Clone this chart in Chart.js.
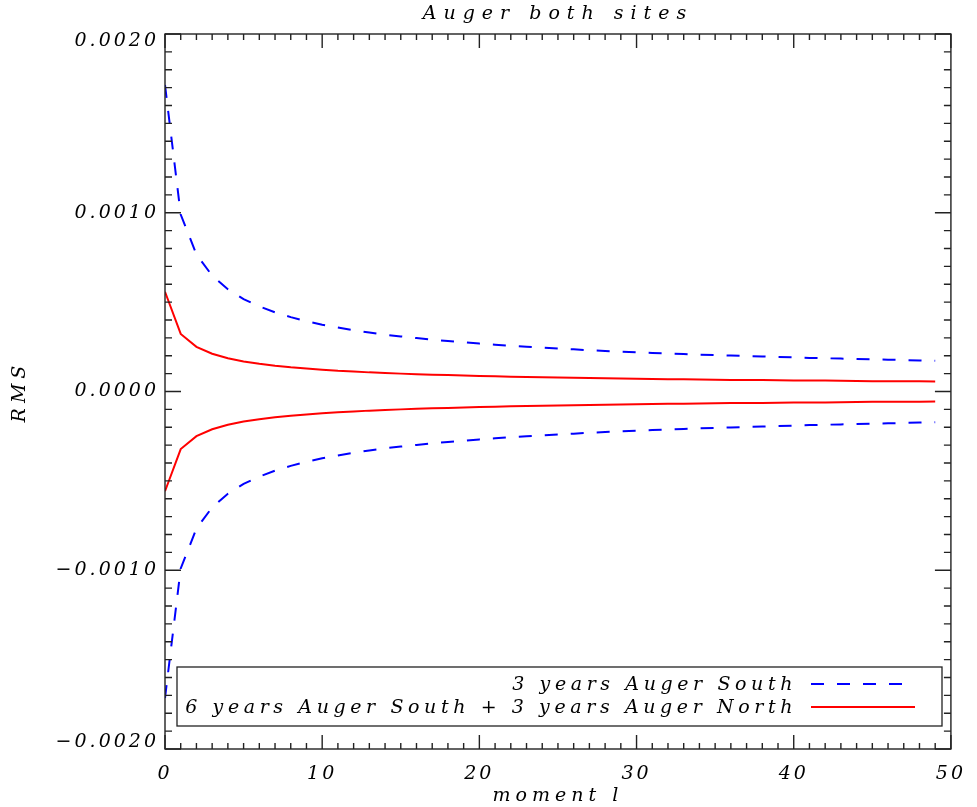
<!DOCTYPE html>
<html>
<head>
<meta charset="utf-8">
<title>Auger both sites</title>
<script src="https://cdn.jsdelivr.net/npm/chart.js@4.4.1/dist/chart.umd.min.js"></script>
<style>
  html, body { margin: 0; padding: 0; background: #fff; }
  #wrap { width: 977px; height: 807px; }
</style>
</head>
<body>
<div id="wrap"><canvas id="rms" width="977" height="807"></canvas></div>
<script>
// ── Data: RMS per multipole moment l, in units of 1e-4 ─────────
const moments = [0, 1, 2, 3, 4, 5, 6, 7, 8, 9, 10, 11, 12, 13, 14, 15, 16, 17, 18, 19,
                 20, 21, 22, 23, 24, 25, 26, 27, 28, 29, 30, 31, 32, 33, 34, 35, 36, 37, 38, 39,
                 40, 41, 42, 43, 44, 45, 46, 47, 48, 49];
const southRms = [17.15, 9.90, 7.67, 6.48, 5.72, 5.17, 4.76, 4.43, 4.16, 3.93,
                  3.74, 3.58, 3.43, 3.30, 3.18, 3.08, 2.99, 2.90, 2.82, 2.75,
                  2.68, 2.62, 2.56, 2.50, 2.45, 2.40, 2.36, 2.31, 2.27, 2.23,
                  2.20, 2.16, 2.13, 2.10, 2.06, 2.04, 2.01, 1.98, 1.96, 1.93,
                  1.91, 1.88, 1.86, 1.84, 1.82, 1.80, 1.78, 1.76, 1.74, 1.72];
const bothRms  = [5.58, 3.22, 2.50, 2.11, 1.86, 1.68, 1.55, 1.44, 1.35, 1.28,
                  1.22, 1.16, 1.12, 1.07, 1.04, 1.00, 0.97, 0.94, 0.92, 0.89,
                  0.87, 0.85, 0.83, 0.81, 0.80, 0.78, 0.77, 0.75, 0.74, 0.73,
                  0.71, 0.70, 0.69, 0.68, 0.67, 0.66, 0.65, 0.64, 0.64, 0.63,
                  0.62, 0.61, 0.61, 0.60, 0.59, 0.58, 0.58, 0.57, 0.57, 0.56];
const seriesNames = ['3 years Auger South', '6 years Auger South + 3 years Auger North'];

const xTickValues = [0, 10, 20, 30, 40, 50];
const xTickLabels = ['0', '10', '20', '30', '40', '50'];
const yTickValues = [0.002, 0.001, 0, -0.001, -0.002];
const yTickLabels = ['0.0020', '0.0010', '0.0000', '\u22120.0010', '\u22120.0020'];

const UNIT = 1e-4;
const SERIF = '"DejaVu Serif", "Liberation Serif", serif';
const BLUE = '#0000ff';
const RED  = '#ff0000';

const pts = (vals, sign) => moments.map((l, i) => ({ x: l, y: sign * vals[i] * UNIT }));
const near = (a, b) => Math.abs(a - b) < 1e-9;
const labelFor = (values, labels) => v => {
  const i = values.findIndex(m => near(m, v));
  return i >= 0 ? labels[i] : '';
};

// wrap a draw method so it renders with its own letter spacing
function spaced(obj, key, px) {
  if (!obj || obj['_sp_' + key]) return;
  const orig = obj[key].bind(obj);
  obj[key] = (...args) => {
    const c = obj.ctx;
    c.save();
    c.letterSpacing = px;
    orig(...args);
    c.restore();
  };
  obj['_sp_' + key] = true;
}

// end labels of the y axis sit inside the frame, like IDL does
function tuckEndLabels(scale) {
  if (scale._tucked) return;
  const orig = scale._computeLabelItems.bind(scale);
  scale._computeLabelItems = (area) => {
    const items = orig(area);
    items.forEach(it => {
      if (it.label === yTickLabels[0]) it.options.translation[1] += 7;
      if (it.label === yTickLabels[yTickLabels.length - 1]) it.options.translation[1] -= 7;
    });
    return items;
  };
  scale._labelItems = null;
  scale._tucked = true;
}

// ── Frame + inward ticks on all four sides, legend box ────────
const frameTicks = {
  id: 'frameTicks',
  beforeDraw(chart) {
    spaced(chart.scales.top, 'drawTitle', '7px');
    spaced(chart.scales.x, 'drawLabels', '3px');
    spaced(chart.scales.y, 'drawLabels', '3px');
    spaced(chart.scales.x, 'drawTitle', '5px');
    spaced(chart.scales.y, 'drawTitle', '5px');
    tuckEndLabels(chart.scales.y);
  },
  afterDatasetsDraw(chart) {
    const { ctx, chartArea: a, scales: { x, y } } = chart;
    ctx.save();
    ctx.strokeStyle = '#222';
    ctx.lineWidth = 1.4;
    ctx.strokeRect(a.left, a.top, a.right - a.left, a.bottom - a.top);
    ctx.beginPath();
    x.ticks.forEach(t => {
      const px = x.getPixelForValue(t.value);
      const len = xTickValues.some(m => near(m, t.value)) ? 14 : 6;
      ctx.moveTo(px, a.bottom); ctx.lineTo(px, a.bottom - len);
      ctx.moveTo(px, a.top);    ctx.lineTo(px, a.top + len);
    });
    y.ticks.forEach(t => {
      const py = y.getPixelForValue(t.value);
      const len = yTickValues.some(m => near(m, t.value)) ? 16 : 7;
      ctx.moveTo(a.left, py);  ctx.lineTo(a.left + len, py);
      ctx.moveTo(a.right, py); ctx.lineTo(a.right - len, py);
    });
    ctx.stroke();
    ctx.restore();
  },
  afterDraw(chart) {
    // legend: text right-aligned, line samples on the right
    const { ctx } = chart;
    const ds = chart.data.datasets;
    const rows = [
      { text: seriesNames[0], style: ds[0], y: 684, x2: 903 },
      { text: seriesNames[1], style: ds[2], y: 707, x2: 915 },
    ];
    ctx.save();
    ctx.fillStyle = '#fff';
    ctx.fillRect(177, 667, 765, 59);
    ctx.strokeStyle = '#222';
    ctx.lineWidth = 1.3;
    ctx.strokeRect(177, 667, 765, 59);
    ctx.font = 'italic 19px ' + SERIF;
    ctx.letterSpacing = '4.6px';
    ctx.fillStyle = '#000';
    ctx.textAlign = 'right';
    ctx.textBaseline = 'middle';
    rows.forEach(r => {
      ctx.fillText(r.text, 797, r.y + 1);
      ctx.beginPath();
      ctx.strokeStyle = r.style.borderColor;
      ctx.lineWidth = r.style.borderWidth;
      ctx.setLineDash(r.style.borderDash || []);
      ctx.moveTo(811, r.y);
      ctx.lineTo(r.x2, r.y);
      ctx.stroke();
    });
    ctx.restore();
  }
};

const textFont = { family: SERIF, size: 19, style: 'italic' };

new Chart(document.getElementById('rms'), {
  type: 'line',
  data: {
    datasets: [
      { label: seriesNames[0], data: pts(southRms, 1),  borderColor: BLUE, borderWidth: 2, borderDash: [13, 13] },
      { label: seriesNames[0], data: pts(southRms, -1), borderColor: BLUE, borderWidth: 2, borderDash: [13, 13] },
      { label: seriesNames[1], data: pts(bothRms, 1),   borderColor: RED,  borderWidth: 2 },
      { label: seriesNames[1], data: pts(bothRms, -1),  borderColor: RED,  borderWidth: 2 },
    ],
  },
  options: {
    responsive: false,
    animation: false,
    devicePixelRatio: 1,
    layout: { padding: { left: 0, right: 18, top: 0, bottom: 0 } },
    elements: { point: { radius: 0 }, line: { tension: 0, fill: false } },
    plugins: {
      legend: { display: false },
      tooltip: { enabled: false },
      title: { display: false },
    },
    scales: {
      top: {
        type: 'linear',
        position: 'top',
        min: 0, max: 50,
        grid: { display: false, drawTicks: false },
        border: { display: false },
        ticks: { display: false },
        title: { display: true, text: 'Auger both sites', color: '#000', font: textFont, padding: { top: 3, bottom: 0 } },
        afterFit: s => { s.height = 34; },
      },
      x: {
        type: 'linear',
        position: 'bottom',
        min: 0, max: 50,
        grid: { display: false, drawTicks: false },
        border: { display: false },
        ticks: { stepSize: 1, autoSkip: false, maxRotation: 0, padding: 14, color: '#000', font: textFont,
                 callback: labelFor(xTickValues, xTickLabels) },
        title: { display: true, text: 'moment l', color: '#000', font: textFont, padding: { top: 0, bottom: 0 } },
        afterFit: s => { s.height = 58; },
      },
      y: {
        type: 'linear',
        min: -0.002, max: 0.002,
        grid: { display: false, drawTicks: false },
        border: { display: false },
        ticks: { stepSize: 0.0001, autoSkip: false, padding: 6, color: '#000', font: textFont,
                 callback: labelFor(yTickValues, yTickLabels) },
        title: { display: true, text: 'RMS', color: '#000', font: textFont, padding: { top: 9, bottom: 0 } },
        afterFit: s => { s.width = 165; },
      },
    },
  },
  plugins: [frameTicks],
});
</script>
</body>
</html>
